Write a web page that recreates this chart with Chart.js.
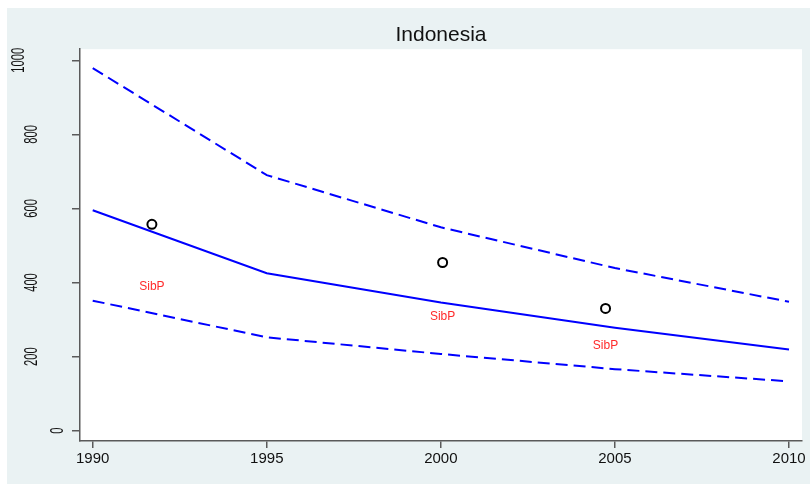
<!DOCTYPE html>
<html>
<head>
<meta charset="utf-8">
<script src="https://cdn.jsdelivr.net/npm/chart.js@4/dist/chart.umd.min.js"></script>
<style>
  html, body { margin: 0; padding: 0; background: #fff; }
  #wrap { width: 810px; height: 485px; }
</style>
</head>
<body>
<div id="wrap"><canvas id="chart" width="810" height="485"></canvas></div>
<script>
'use strict';

// ===== data =====
const years     = [1990, 1995, 2000, 2005, 2010];
const estimate  = [595, 425, 346, 278, 219];
const upperBand = [979, 690, 549, 439, 348];
const lowerBand = [351, 252, 207, 166, 133];

const obsYears  = [1991.70, 2000.05, 2004.73];
const obsValues = [557, 454, 330];

const sibpYears  = [1991.70, 2000.05, 2004.73];
const sibpValues = [388, 307, 229];
const sibpLabel  = 'SibP';

const xTicks = [1990, 1995, 2000, 2005, 2010];
const yTicks = [0, 200, 400, 600, 800, 1000];

const BG = '#eaf2f3';
const AXIS = '#5a5a5a';
const BLUE = '#0000ff';

const pts = (xs, ys) => xs.map((x, i) => ({ x: x, y: ys[i] }));

// background: light outer frame, white plot region
const bgPlugin = {
  id: 'bg',
  beforeDraw(chart) {
    const { ctx, chartArea: a } = chart;
    ctx.save();
    ctx.fillStyle = '#fff';
    ctx.fillRect(0, 0, chart.width, chart.height);
    ctx.fillStyle = BG;
    ctx.fillRect(7, 8, chart.width - 7, chart.height - 9);
    ctx.fillStyle = '#fff';
    ctx.fillRect(a.left, a.top, a.right - a.left, a.bottom - a.top);
    ctx.restore();
  },
};

// rotated y tick labels
const yLabelPlugin = {
  id: 'ylabels',
  afterDraw(chart) {
    const { ctx } = chart;
    const y = chart.scales.y;
    ctx.save();
    ctx.fillStyle = '#111';
    ctx.font = '14px "Liberation Sans", Arial, sans-serif';
    ctx.textAlign = 'center';
    ctx.textBaseline = 'middle';
    yTicks.forEach(v => {
      const s = String(v);
      const py = y.getPixelForValue(v);
      const px = y.right - 9 - 13 * s.length;
      ctx.save();
      ctx.translate(px, py);
      ctx.rotate(-Math.PI / 2);
      ctx.scale(0.8, 1.3);
      ctx.fillText(s, 0, 0);
      ctx.restore();
    });
    ctx.restore();
  },
};

// red SibP text labels
const sibpPlugin = {
  id: 'sibp',
  afterDatasetsDraw(chart) {
    const { ctx } = chart;
    const meta = chart.getDatasetMeta(4);
    ctx.save();
    ctx.fillStyle = '#ff2a2a';
    ctx.font = '12px "Liberation Sans", Arial, sans-serif';
    ctx.textAlign = 'center';
    ctx.textBaseline = 'middle';
    meta.data.forEach(p => ctx.fillText(sibpLabel, p.x, p.y));
    ctx.restore();
  },
};

new Chart(document.getElementById('chart'), {
  type: 'line',
  data: {
    datasets: [
      { data: pts(years, upperBand), borderColor: BLUE, borderWidth: 2, borderDash: [12, 6], pointRadius: 0, fill: false },
      { data: pts(years, estimate),  borderColor: BLUE, borderWidth: 2, pointRadius: 0, fill: false },
      { data: pts(years, lowerBand), borderColor: BLUE, borderWidth: 2, borderDash: [12, 6], pointRadius: 0, fill: false },
      { data: pts(obsYears, obsValues), showLine: false, pointRadius: 4.5, pointBorderWidth: 2,
        pointBorderColor: '#000', pointBackgroundColor: 'rgba(0,0,0,0)' },
      { data: pts(sibpYears, sibpValues), showLine: false, pointRadius: 0 },
    ],
  },
  options: {
    responsive: false,
    animation: false,
    layout: { padding: { left: 7, right: 8, top: 8, bottom: 1 } },
    plugins: {
      legend: { display: false },
      tooltip: { enabled: false },
      title: {
        display: true,
        text: 'Indonesia',
        fullSize: false,
        color: '#111',
        font: { size: 21, family: '"Liberation Sans", Arial, sans-serif', weight: 'normal' },
        padding: { top: 15, bottom: 1 },
      },
    },
    scales: {
      x: {
        type: 'linear',
        min: 1989.635,
        max: 2010.373,
        afterBuildTicks: s => { s.ticks = xTicks.map(v => ({ value: v })); },
        afterFit: s => { s.height = 43; },
        ticks: {
          callback: v => String(v),
          color: '#111',
          padding: 2,
          maxRotation: 0,
          font: { size: 15, family: '"Liberation Sans", Arial, sans-serif' },
        },
        grid: { drawOnChartArea: false, drawTicks: true, tickLength: 7, color: AXIS, lineWidth: 1.5 },
        border: { display: true, color: AXIS, width: 1.5 },
      },
      y: {
        min: -28,
        max: 1030,
        afterBuildTicks: s => { s.ticks = yTicks.map(v => ({ value: v })); },
        afterFit: s => { s.width = 73; },
        ticks: { display: false },
        grid: { drawOnChartArea: false, drawTicks: true, tickLength: 8, color: AXIS, lineWidth: 1.5 },
        border: { display: true, color: AXIS, width: 1.5 },
      },
    },
  },
  plugins: [bgPlugin, yLabelPlugin, sibpPlugin],
});
</script>
</body>
</html>
